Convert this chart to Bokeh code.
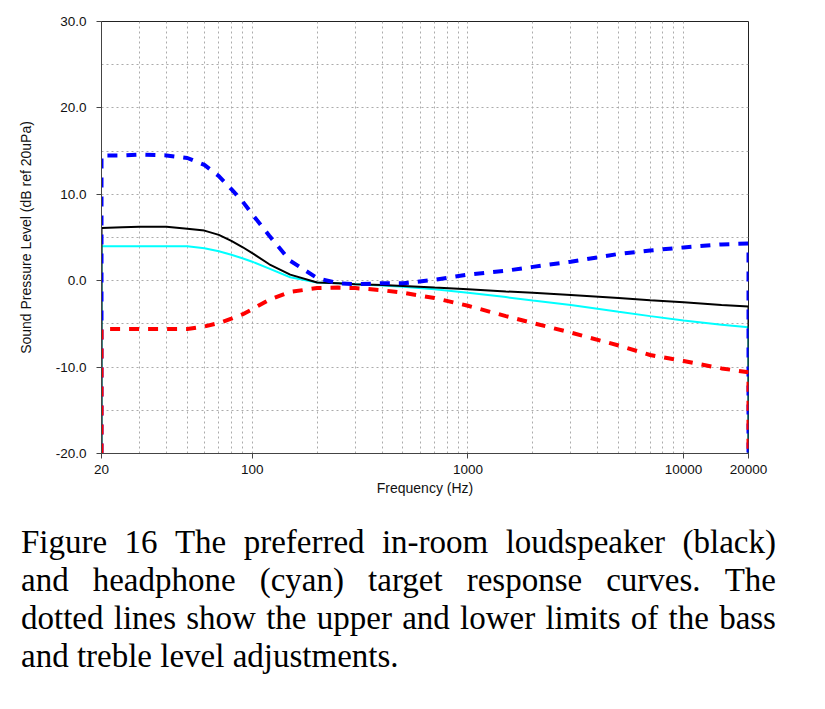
from bokeh.plotting import figure
from bokeh.models import FixedTicker, PrintfTickFormatter, Div
from bokeh.layouts import column
from bokeh.embed import file_html
from bokeh.resources import INLINE

# ---- data ----
freq = [20, 25, 30, 40, 50, 60, 70, 80, 90, 100, 120, 150, 200, 250, 300, 400,
        500, 700, 1000, 1500, 2000, 3000, 5000, 7000, 10000, 15000, 20000]

loudspeaker = [6.1, 6.2, 6.25, 6.25, 6.0, 5.8, 5.3, 4.6, 3.9, 3.2, 1.9, 0.7, -0.2,
               -0.3, -0.4, -0.5, -0.6, -0.8, -1.0, -1.25, -1.4, -1.65, -2.0,
               -2.25, -2.5, -2.8, -3.0]

headphone = [4.0, 4.0, 4.0, 4.0, 4.0, 3.75, 3.4, 3.0, 2.6, 2.2, 1.4, 0.4, -0.2,
             -0.3, -0.4, -0.55, -0.7, -1.0, -1.4, -1.9, -2.3, -2.8, -3.6, -4.1,
             -4.6, -5.1, -5.4]

upper_limit = [14.5, 14.5, 14.6, 14.5, 14.2, 13.4, 12.1, 10.6, 9.2, 7.7, 5.2, 2.3,
               0.3, -0.3, -0.4, -0.3, -0.3, 0.1, 0.7, 1.15, 1.6, 2.2, 3.1, 3.5,
               3.85, 4.2, 4.3]

lower_limit = [-5.6, -5.6, -5.6, -5.6, -5.6, -5.3, -4.9, -4.4, -3.9, -3.3, -2.2,
               -1.3, -0.85, -0.8, -0.85, -1.1, -1.4, -2.0, -2.9, -4.1, -4.9, -6.0,
               -7.5, -8.6, -9.3, -10.15, -10.6]

x_tick_values = [20, 100, 1000, 10000, 20000]
x_tick_labels = ["20", "100", "1000", "10000", "20000"]
y_tick_values = [-20, -10, 0, 10, 20, 30]
x_grid_values = [30, 40, 50, 60, 70, 80, 90, 100, 200, 300, 400, 500, 600, 700,
                 800, 900, 1000, 2000, 3000, 4000, 5000, 6000, 7000, 8000, 9000, 10000]
y_grid_values = [-15, -10, -5, 0, 5, 10, 15, 20, 25]

x_range = (20, 20000)
y_range = (-20, 30)

caption_lines = [
    "Figure 16 The preferred in-room loudspeaker (black)",
    "and headphone (cyan) target response curves. The",
    "dotted lines show the upper and lower limits of the bass",
    "and treble level adjustments.",
]

# ---- figure ----
p = figure(width=788, height=508, x_axis_type="log", x_range=x_range, y_range=y_range,
           output_backend="svg", toolbar_location=None, title=None,
           min_border_left=101, min_border_right=40, min_border_top=21,
           min_border_bottom=55)
p.background_fill_color = "white"
p.border_fill_color = "white"
p.outline_line_color = "#222222"
p.outline_line_width = 1

def edge(vals):
    return [y_range[0]] + list(vals) + [y_range[0]]

xs = [x_range[0]] + freq + [x_range[1]]

p.line(xs, edge(headphone), line_color="#00FFFF", line_width=2)
p.line(xs, edge(loudspeaker), line_color="black", line_width=2)
p.line(xs, edge(upper_limit), line_color="#0000FF", line_width=4, line_dash="10 9")
p.line(xs, edge(lower_limit), line_color="#FF0000", line_width=4, line_dash="10 9")

# grids
p.xgrid.ticker = FixedTicker(ticks=x_grid_values)
p.ygrid.ticker = FixedTicker(ticks=y_grid_values)
for g in (p.xgrid, p.ygrid):
    g.grid_line_color = "#ababab"
    g.grid_line_dash = "2 3"
    g.grid_line_width = 1

# axes
p.xaxis.ticker = FixedTicker(ticks=x_tick_values)
p.xaxis.major_label_overrides = {v: l for v, l in zip(x_tick_values, x_tick_labels)}
p.yaxis.ticker = FixedTicker(ticks=y_tick_values)
p.yaxis.formatter = PrintfTickFormatter(format="%.1f")

for ax in (p.xaxis, p.yaxis):
    ax.axis_line_color = "#444444"
    ax.axis_line_width = 1
    ax.major_tick_line_color = "#444444"
    ax.major_tick_out = 5
    ax.major_tick_in = 0
    ax.minor_tick_line_color = None
    ax.major_label_text_font = "Liberation Sans"
    ax.major_label_text_font_size = "13.5px"
    ax.major_label_text_color = "#111111"
    ax.axis_label_text_font = "Liberation Sans"
    ax.axis_label_text_font_size = "14px"
    ax.axis_label_text_font_style = "normal"
    ax.axis_label_text_color = "#111111"

p.xaxis.axis_label = "Frequency (Hz)"
p.yaxis.axis_label = "Sound Pressure Level (dB ref 20uPa)"
p.xaxis.major_label_standoff = 6
p.xaxis.axis_label_standoff = 3
p.yaxis.major_label_standoff = 10
p.yaxis.axis_label_standoff = 19

# ---- caption ----
line_html = []
for i, line in enumerate(caption_lines):
    if i < len(caption_lines) - 1:
        words = "".join(f"<span>{w}</span>" for w in line.split(" "))
        line_html.append(
            f'<div style="display:flex;justify-content:space-between;white-space:nowrap;height:38px">{words}</div>')
    else:
        line_html.append(f'<div style="white-space:nowrap;height:38px">{line}</div>')

caption_html = (
    '<div style="font-family:\'Liberation Serif\',\'Times New Roman\',serif;'
    'font-size:33px;line-height:38px;color:#000;margin:10px 0 0 16px;width:755px">'
    + "".join(line_html) + "</div>"
)
div = Div(text=caption_html, width=788, height=175)

layout = column(p, div)
open("out.html", "w").write(file_html(layout, INLINE))
